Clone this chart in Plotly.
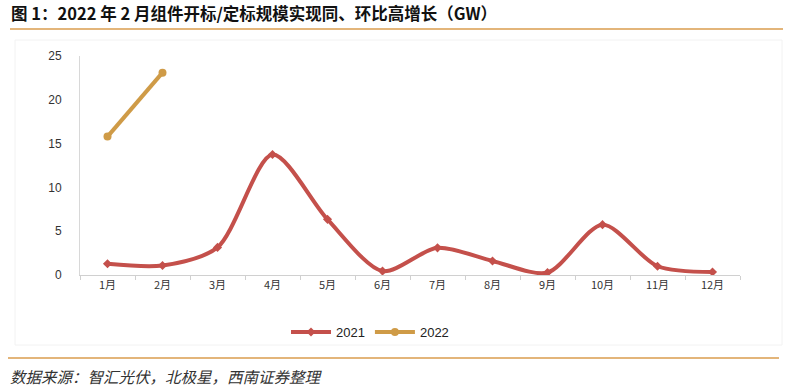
import plotly.graph_objects as go

months = ["1月", "2月", "3月", "4月", "5月", "6月", "7月", "8月", "9月", "10月", "11月", "12月"]
v2021 = [1.28, 1.08, 3.15, 13.75, 6.35, 0.45, 3.1, 1.6, 0.28, 5.75, 1.0, 0.35]
months2022 = ["1月", "2月"]
v2022 = [15.8, 23.1]
y_ticks = [0, 5, 10, 15, 20, 25]

W, H = 800, 391
PL, PR, PT, PB = 80, 740, 56, 275   # plot area in screen pixels
L, T, R, B = PL, PT, W - PR, H - PB
pw, ph = PR - PL, PB - PT

def px(x):
    return (x - PL) / pw

def py(y):
    return (PB - y) / ph

FONT = "Liberation Sans, Noto Sans CJK SC, sans-serif"
CJK = "Noto Sans CJK SC, Liberation Sans, sans-serif"

fig = go.Figure()
fig.add_trace(go.Scatter(
    x=months, y=v2021, name="2021", mode="lines+markers",
    line=dict(color="#C4504B", width=4, shape="spline", smoothing=0.8),
    marker=dict(symbol="diamond", size=7, color="#C4504B"),
))
fig.add_trace(go.Scatter(
    x=months2022, y=v2022, name="2022", mode="lines+markers",
    line=dict(color="#CF9B47", width=4),
    marker=dict(symbol="circle", size=8, color="#CF9B47"),
))

fig.update_layout(
    width=W, height=H,
    margin=dict(l=L, r=R, t=T, b=B, pad=0),
    paper_bgcolor="white", plot_bgcolor="white",
    font=dict(family=FONT, size=11, color="#333333"),
    showlegend=True,
    legend=dict(orientation="h", x=px(286), y=py(332), xanchor="left", yanchor="middle",
                font=dict(size=13, color="#222222", family=FONT),
                itemwidth=40, tracegroupgap=0, bgcolor="rgba(0,0,0,0)"),
    xaxis=dict(type="category", range=[-0.5, 11.5], showline=True, linecolor="#D0D0D0", linewidth=1,
               ticks="outside", tickson="boundaries", ticklen=4, tickcolor="#D0D0D0",
               showgrid=False, zeroline=False, tickfont=dict(family=CJK, size=11, color="#333333")),
    yaxis=dict(range=[0, 25], tickvals=y_ticks, showline=True, linecolor="#D8D8D8", linewidth=1,
               ticks="", showgrid=False, zeroline=False, ticklabelstandoff=15,
               tickfont=dict(size=12, color="#333333")),
)

shapes = [
    dict(type="rect", xref="paper", yref="paper", x0=px(15), x1=px(782), y0=py(345), y1=py(40),
         line=dict(color="#F2F2F2", width=1), layer="below"),
    dict(type="line", xref="paper", yref="paper", x0=px(10), x1=px(783), y0=py(29), y1=py(29),
         line=dict(color="#E3B57A", width=2)),
    dict(type="line", xref="paper", yref="paper", x0=px(8), x1=px(779), y0=py(358), y1=py(358),
         line=dict(color="#E3B57A", width=2)),
]
fig.update_layout(shapes=shapes)

fig.add_annotation(xref="paper", yref="paper", x=px(9), y=py(13), xanchor="left", yanchor="middle",
                   text="<b>图 1：2022 年 2 月组件开标/定标规模实现同、环比高增长（GW）</b>",
                   showarrow=False, font=dict(family=CJK, size=16.5, color="#111111"))
fig.add_annotation(xref="paper", yref="paper", x=px(8), y=py(376), xanchor="left", yanchor="middle",
                   text="<i>数据来源：智汇光伏，北极星，西南证券整理</i>",
                   showarrow=False, font=dict(family=CJK, size=15.5, color="#333333"))

fig.write_html("out.html", config={"displayModeBar": False},
               post_script="document.body.style.margin='0';document.body.style.overflow='hidden';")
